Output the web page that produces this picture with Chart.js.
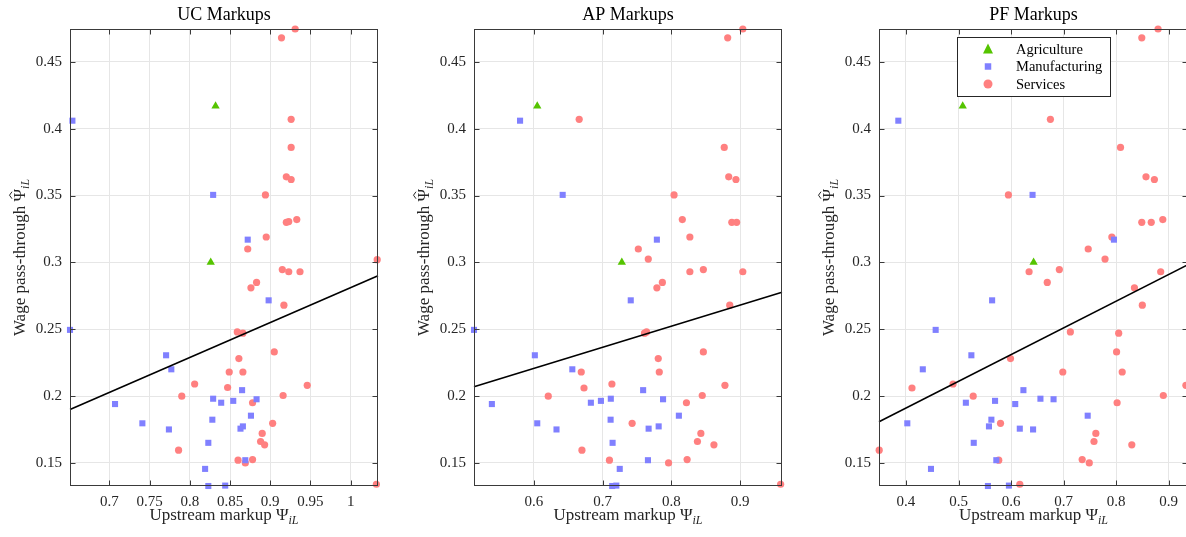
<!DOCTYPE html>
<html>
<head>
<meta charset="utf-8">
<script src="https://cdn.jsdelivr.net/npm/chart.js@4.4.1/dist/chart.umd.min.js"></script>
<style>
    body { margin: 0; background: #fff; overflow: hidden; width: 1186px; height: 537px; }
    canvas { position: absolute; top: 0; }
</style>
</head>
<body>
<canvas id="graficoUC" width="400" height="537" style="left:0px"></canvas>
<canvas id="graficoAP" width="395" height="537" style="left:405px"></canvas>
<canvas id="graficoPF" width="383" height="537" style="left:805px"></canvas>
<script>
// * Dados (y = repasse salarial, x = markup a montante)
var ticksY = [0.15, 0.2, 0.25, 0.3, 0.35, 0.4, 0.45];
var rotulosY = ['0.15', '0.2', '0.25', '0.3', '0.35', '0.4', '0.45'];
var limY = [0.1327, 0.4746];

// ? Painel UC
var ucTicksX = [0.7, 0.75, 0.8, 0.85, 0.9, 0.95, 1];
var ucRotulosX = ['0.7', '0.75', '0.8', '0.85', '0.9', '0.95', '1'];
var ucLimX = [0.651, 1.034];
var ucLinhaY = [0.190, 0.290];
var ucAgriX = [0.832, 0.826];
var ucAgriY = [0.417, 0.300];
var ucManufX = [0.654, 0.829, 0.872, 0.651, 0.898, 0.7705, 0.777, 0.707, 0.741, 0.774, 0.829, 0.839, 0.854, 0.865, 0.883, 0.876, 0.828, 0.866, 0.863, 0.823, 0.819, 0.869, 0.823, 0.844];
var ucManufY = [0.406, 0.3505, 0.317, 0.2495, 0.2716, 0.2305, 0.220, 0.194, 0.1796, 0.175, 0.198, 0.195, 0.1964, 0.2044, 0.1976, 0.1853, 0.1823, 0.1773, 0.1756, 0.165, 0.1455, 0.152, 0.1327, 0.133];
var ucServX = [0.931, 0.914, 0.926, 0.926, 0.920, 0.926, 0.894, 0.920, 0.923, 0.933, 0.895, 0.872, 1.033, 0.915, 0.923, 0.937, 0.883, 0.876, 0.917, 0.859, 0.866, 0.905, 0.861, 0.849, 0.866, 0.806, 0.946, 0.847, 0.790, 0.916, 0.878, 0.903, 0.890, 0.888, 0.893, 0.786, 0.860, 0.878, 0.869, 1.032];
var ucServY = [0.4746, 0.468, 0.407, 0.386, 0.364, 0.362, 0.3505, 0.330, 0.3305, 0.332, 0.319, 0.310, 0.302, 0.2946, 0.293, 0.293, 0.285, 0.281, 0.268, 0.248, 0.247, 0.233, 0.228, 0.218, 0.218, 0.209, 0.208, 0.2064, 0.1999, 0.2004, 0.195, 0.1796, 0.172, 0.166, 0.1635, 0.1595, 0.152, 0.1525, 0.150, 0.134];

// ? Painel AP
var apTicksX = [0.6, 0.7, 0.8, 0.9];
var apRotulosX = ['0.6', '0.7', '0.8', '0.9'];
var apLimX = [0.513, 0.961];
var apLinhaY = [0.207, 0.2776];
var apAgriX = [0.605, 0.728];
var apAgriY = [0.417, 0.300];
var apManufX = [0.580, 0.642, 0.779, 0.513, 0.741, 0.6015, 0.656, 0.539, 0.605, 0.633, 0.683, 0.6976, 0.712, 0.759, 0.788, 0.811, 0.7117, 0.7816, 0.767, 0.7146, 0.725, 0.766, 0.714, 0.720];
var apManufY = [0.406, 0.3505, 0.317, 0.2495, 0.2716, 0.2305, 0.220, 0.194, 0.1796, 0.175, 0.195, 0.1964, 0.198, 0.2044, 0.1976, 0.1853, 0.1823, 0.1773, 0.1756, 0.165, 0.1455, 0.152, 0.1327, 0.133];
var apServX = [0.904, 0.882, 0.666, 0.877, 0.8835, 0.894, 0.804, 0.816, 0.888, 0.895, 0.827, 0.752, 0.7665, 0.827, 0.8466, 0.904, 0.787, 0.779, 0.885, 0.761, 0.764, 0.8466, 0.781, 0.669, 0.7825, 0.7136, 0.673, 0.878, 0.621, 0.845, 0.822, 0.743, 0.843, 0.838, 0.862, 0.670, 0.710, 0.823, 0.796, 0.959];
var apServY = [0.4746, 0.468, 0.407, 0.386, 0.364, 0.362, 0.3505, 0.332, 0.330, 0.330, 0.319, 0.310, 0.3025, 0.293, 0.2946, 0.293, 0.285, 0.281, 0.268, 0.247, 0.248, 0.233, 0.228, 0.218, 0.218, 0.209, 0.206, 0.208, 0.1999, 0.2004, 0.195, 0.1796, 0.172, 0.166, 0.1635, 0.1595, 0.152, 0.1525, 0.150, 0.134];

// ? Painel PF
var pfTicksX = [0.4, 0.5, 0.6, 0.7, 0.8, 0.9];
var pfRotulosX = ['0.4', '0.5', '0.6', '0.7', '0.8', '0.9'];
var pfLimX = [0.3486, 0.937];
var pfLinhaY = [0.1808, 0.2983];
var pfAgriX = [0.508, 0.643];
var pfAgriY = [0.417, 0.300];
var pfManufX = [0.3854, 0.641, 0.796, 0.4565, 0.564, 0.5245, 0.432, 0.514, 0.4025, 0.642, 0.5696, 0.656, 0.6236, 0.681, 0.746, 0.5626, 0.608, 0.558, 0.6167, 0.529, 0.4476, 0.572, 0.556, 0.596];
var pfManufY = [0.406, 0.3505, 0.317, 0.2495, 0.2716, 0.2305, 0.220, 0.195, 0.1796, 0.175, 0.1964, 0.198, 0.2044, 0.1976, 0.1853, 0.1823, 0.194, 0.1773, 0.1756, 0.165, 0.1455, 0.152, 0.1327, 0.133];
var pfServX = [0.880, 0.849, 0.675, 0.8085, 0.857, 0.873, 0.595, 0.849, 0.867, 0.889, 0.792, 0.747, 0.779, 0.6344, 0.692, 0.885, 0.669, 0.835, 0.850, 0.713, 0.805, 0.801, 0.599, 0.6986, 0.8117, 0.4896, 0.4114, 0.933, 0.528, 0.890, 0.802, 0.580, 0.7615, 0.758, 0.830, 0.349, 0.5766, 0.7355, 0.749, 0.6167];
var pfServY = [0.4746, 0.468, 0.407, 0.386, 0.364, 0.362, 0.3505, 0.330, 0.330, 0.332, 0.319, 0.310, 0.3025, 0.293, 0.2946, 0.293, 0.285, 0.281, 0.268, 0.248, 0.247, 0.233, 0.228, 0.218, 0.218, 0.209, 0.206, 0.208, 0.1999, 0.2004, 0.195, 0.1796, 0.172, 0.166, 0.1635, 0.1595, 0.152, 0.1525, 0.150, 0.134];

var setores = ['Agriculture', 'Manufacturing', 'Services'];

// * Estilos
var fonte = "'Liberation Serif', 'Times New Roman', serif";
var corAgri = '#55c400';
var corManuf = '#8080ff';
var corServ = '#ff8080';
var corEixo = '#3a3a3a';

function pares(xs, ys) {
    var r = [];
    for (var i = 0; i < xs.length; i++) r.push({ x: xs[i], y: ys[i] });
    return r;
}

// * Escreve texto com Psi, chapéu e subscrito iL (rótulos dos eixos)
function escreveRotulo(ctx, base, chapeu, x, y, girar) {
    var partes = [
        { t: base, f: '17px ' + fonte, dy: 0 },
        { t: 'Ψ', f: '17px ' + fonte, dy: 0, chapeu: chapeu },
        { t: 'iL', f: 'italic 12px ' + fonte, dy: 4 }
    ];
    ctx.save();
    ctx.translate(x, y);
    if (girar) ctx.rotate(-Math.PI / 2);
    var total = 0;
    partes.forEach(function (p) { ctx.font = p.f; p.w = ctx.measureText(p.t).width; total += p.w; });
    var cx = -total / 2;
    ctx.fillStyle = '#262626';
    ctx.strokeStyle = '#262626';
    ctx.textAlign = 'left';
    ctx.textBaseline = 'alphabetic';
    partes.forEach(function (p) {
        ctx.font = p.f;
        ctx.fillText(p.t, cx, p.dy);
        if (p.chapeu) {
            var m = cx + p.w / 2;
            ctx.lineWidth = 1;
            ctx.beginPath();
            ctx.moveTo(m - 3.5, -13);
            ctx.lineTo(m, -15.5);
            ctx.lineTo(m + 3.5, -13);
            ctx.stroke();
        }
        cx += p.w;
    });
    ctx.restore();
}

function marcador(ctx, tipo, x, y, s) {
    ctx.beginPath();
    if (tipo == 'triangle') {
        ctx.moveTo(x, y - s * 0.6);
        ctx.lineTo(x + s / 2, y + s * 0.4);
        ctx.lineTo(x - s / 2, y + s * 0.4);
        ctx.closePath();
    } else if (tipo == 'rect') {
        ctx.rect(x - s / 2, y - s / 2, s, s);
    } else {
        ctx.arc(x, y, s / 2, 0, Math.PI * 2);
    }
    ctx.fill();
}

// * Plugin: título, moldura, ticks para dentro (estilo MATLAB), rótulos e legenda
var molduraMatlab = {
    id: 'molduraMatlab',
    afterDraw: function (chart, args, opts) {
        var ctx = chart.ctx, a = chart.chartArea;
        var sx = chart.scales.x, sy = chart.scales.y;
        ctx.save();
        ctx.strokeStyle = corEixo;
        ctx.lineWidth = 1;
        var l = Math.round(a.left) + 0.5, r = Math.round(a.right) - 0.5;
        var t = Math.round(a.top) + 0.5, b = Math.round(a.bottom) - 0.5;
        ctx.strokeRect(l, t, r - l, b - t);
        ctx.beginPath();
        sx.ticks.forEach(function (tk) {
            var px = Math.round(sx.getPixelForValue(tk.value)) + 0.5;
            ctx.moveTo(px, b); ctx.lineTo(px, b - 5);
            ctx.moveTo(px, t); ctx.lineTo(px, t + 5);
        });
        sy.ticks.forEach(function (tk) {
            var py = Math.round(sy.getPixelForValue(tk.value)) + 0.5;
            ctx.moveTo(l, py); ctx.lineTo(l + 5, py);
            ctx.moveTo(r, py); ctx.lineTo(r - 5, py);
        });
        ctx.stroke();

        // > Título centrado sobre a área do gráfico, como no MATLAB
        ctx.fillStyle = '#000';
        ctx.font = '18px ' + fonte;
        ctx.textAlign = 'center';
        ctx.textBaseline = 'alphabetic';
        ctx.fillText(opts.titulo, (a.left + a.right) / 2, 19.5);
        ctx.restore();

        escreveRotulo(ctx, 'Upstream markup ', false, (a.left + a.right) / 2, a.bottom + 34, false);
        escreveRotulo(ctx, 'Wage pass-through ', true, a.left - 45, (a.top + a.bottom) / 2, true);

        if (opts.legenda) {
            var bx = a.left + 78, by = a.top + 8;
            ctx.save();
            ctx.fillStyle = '#fff';
            ctx.fillRect(bx, by, 153, 59);
            ctx.strokeStyle = '#262626';
            ctx.lineWidth = 1;
            ctx.strokeRect(Math.round(bx) + 0.5, Math.round(by) + 0.5, 153, 59);
            var linhas = [
                { tipo: 'triangle', cor: corAgri, s: 10 },
                { tipo: 'rect', cor: corManuf, s: 6.5 },
                { tipo: 'circle', cor: corServ, s: 9 }
            ];
            var ys = [12.5, 29.5, 47];
            ctx.font = '14.5px ' + fonte;
            ctx.textBaseline = 'middle';
            ctx.textAlign = 'left';
            for (var i = 0; i < linhas.length; i++) {
                ctx.fillStyle = linhas[i].cor;
                marcador(ctx, linhas[i].tipo, bx + 31, by + ys[i], linhas[i].s);
                ctx.fillStyle = '#000';
                ctx.fillText(setores[i], bx + 59, by + ys[i] + 1);
            }
            ctx.restore();
        }
    }
};

function criaPainel(id, titulo, limX, ticksX, rotulosX, linhaY, agri, manuf, serv, larguraY, padDir, legenda) {
    var ctx = document.getElementById(id).getContext('2d');
    return new Chart(ctx, {
        type: 'scatter',
        data: {
            datasets: [
                {
                    data: [{ x: limX[0], y: linhaY[0] }, { x: limX[1], y: linhaY[1] }],
                    showLine: true, borderColor: '#000', borderWidth: 1.6, pointRadius: 0, clip: false
                },
                {
                    label: setores[0], data: agri, pointStyle: 'triangle', pointRadius: 4.8,
                    backgroundColor: corAgri, borderColor: corAgri, borderWidth: 0, clip: false
                },
                {
                    label: setores[1], data: manuf, pointStyle: 'rect', pointRadius: 4.3,
                    backgroundColor: corManuf, borderColor: corManuf, borderWidth: 0, clip: false
                },
                {
                    label: setores[2], data: serv, pointStyle: 'circle', pointRadius: 3.6,
                    backgroundColor: corServ, borderColor: corServ, borderWidth: 0, clip: false
                }
            ]
        },
        options: {
            responsive: false,
            animation: false,
            devicePixelRatio: 1,
            layout: { autoPadding: false, padding: { left: 0, right: padDir, top: 29, bottom: 0 } },
            plugins: {
                legend: { display: false },
                tooltip: { enabled: false },
                title: { display: false },
                molduraMatlab: { legenda: legenda, titulo: titulo }
            },
            scales: {
                x: {
                    type: 'linear', min: limX[0], max: limX[1],
                    afterBuildTicks: function (s) { s.ticks = ticksX.map(function (v) { return { value: v }; }); },
                    afterFit: function (s) { s.height = 51; },
                    grid: { color: '#e6e6e6', drawTicks: false },
                    border: { display: false },
                    ticks: {
                        autoSkip: false, maxRotation: 0, padding: 7, color: '#262626',
                        font: { family: fonte, size: 15 },
                        callback: function (v, i) { return rotulosX[i]; }
                    }
                },
                y: {
                    type: 'linear', min: limY[0], max: limY[1],
                    afterBuildTicks: function (s) { s.ticks = ticksY.map(function (v) { return { value: v }; }); },
                    afterFit: function (s) { s.width = larguraY; },
                    grid: { color: '#e6e6e6', drawTicks: false },
                    border: { display: false },
                    ticks: {
                        autoSkip: false, padding: 8, color: '#262626',
                        font: { family: fonte, size: 15 },
                        callback: function (v, i) { return rotulosY[i]; }
                    }
                }
            }
        },
        plugins: [molduraMatlab]
    });
}

criaPainel('graficoUC', 'UC Markups', ucLimX, ucTicksX, ucRotulosX, ucLinhaY,
    pares(ucAgriX, ucAgriY), pares(ucManufX, ucManufY), pares(ucServX, ucServY), 70, 22, false);
criaPainel('graficoAP', 'AP Markups', apLimX, apTicksX, apRotulosX, apLinhaY,
    pares(apAgriX, apAgriY), pares(apManufX, apManufY), pares(apServX, apServY), 69, 18, false);
criaPainel('graficoPF', 'PF Markups', pfLimX, pfTicksX, pfRotulosX, pfLinhaY,
    pares(pfAgriX, pfAgriY), pares(pfManufX, pfManufY), pares(pfServX, pfServY), 74, 0, true);
</script>
</body>
</html>
